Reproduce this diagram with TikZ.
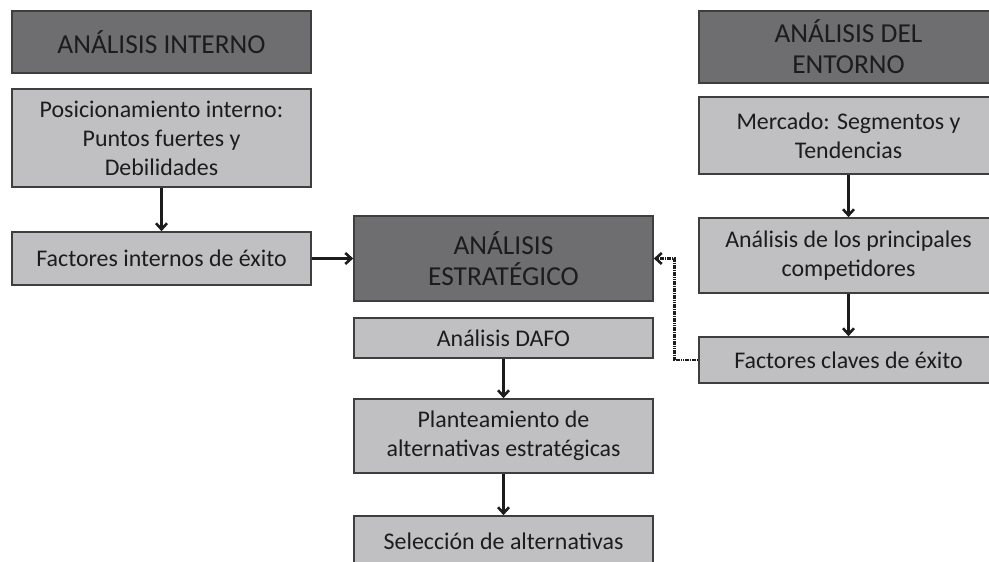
\documentclass[tikz,border=0pt]{standalone}
\usepackage{fontspec}
\setmainfont{Carlito}
\usepackage{tikz}
\usetikzlibrary{arrows.meta}
\definecolor{darkfill}{RGB}{110,110,112}
\definecolor{lightfill}{RGB}{192,192,194}
\definecolor{boxline}{RGB}{62,62,62}
\definecolor{boxtext}{RGB}{28,28,28}
\begin{document}
\begin{tikzpicture}
[x=1bp, y=1bp,
>={Straight Barb[length=6bp,width=11bp]},
darkbox/.style={draw=boxline, line width=1.6bp, fill=darkfill, text=boxtext,
  minimum width=299bp, align=center, font=\fontsize{27.5}{31}\selectfont, inner sep=0pt},
lightbox/.style={draw=boxline, line width=1.6bp, fill=lightfill, text=boxtext,
  minimum width=299bp, align=center, font=\fontsize{24}{29}\selectfont, inner sep=0pt},
myarrow/.style={->, line width=2.6bp, draw=boxtext}]
  \clip (0,0) rectangle (989,562);
  \fill [white] (0,0) rectangle (989,562);
  % analisis interno
  \node [darkbox, minimum height=62bp] (ai) at (161.5,520) {ANÁLISIS INTERNO};
  \node [lightbox, minimum height=98bp] (pi) at (161.5,424) {Posicionamiento interno:\\Puntos fuertes y\\Debilidades};
  \node [lightbox, minimum height=53bp] (fi) at (161.5,303.5) {Factores internos de éxito};
  % analisis estrategico
  \node [darkbox, minimum height=85bp] (ae) at (503.5,303.5) {ANÁLISIS\\ESTRATÉGICO};
  \node [lightbox, minimum height=40bp] (dafo) at (503.5,224) {Análisis DAFO};
  \node [lightbox, minimum height=74bp] (pa) at (503.5,126) {Planteamiento de\\alternativas estratégicas};
  \node [lightbox, minimum height=50bp] (sa) at (503.5,21) {Selección de alternativas};
  % analisis del entorno
  \node [darkbox, minimum height=72bp] (en) at (848.5,515) {ANÁLISIS DEL\\ENTORNO};
  \node [lightbox, minimum height=77bp] (me) at (848.5,426.5) {Mercado: Segmentos y\\Tendencias};
  \node [lightbox, minimum height=75bp] (co) at (848.5,306.5) {Análisis de los principales\\competidores};
  \node [lightbox, minimum height=46bp] (fc) at (848.5,202) {Factores claves de éxito};
  % flechas
  \draw [myarrow] (pi) -- (fi);
  \draw [myarrow] (fi) -- (ae);
  \draw [myarrow] (dafo) -- (pa);
  \draw [myarrow] (pa) -- (sa);
  \draw [myarrow] (me) -- (co);
  \draw [myarrow] (co) -- (fc);
  \draw [myarrow, dash pattern=on 1.6bp off 0.7bp, line width=2.6bp] (fc.west) -- ++(-24,0) |- (ae.east);
\end{tikzpicture}
\end{document}
